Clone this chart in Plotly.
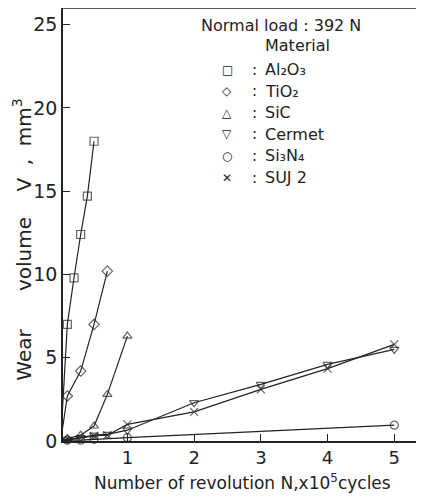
import plotly.graph_objects as go

# Data (N in 1e5 cycles, V in mm^3)
al2o3_n = [0, 0.1, 0.2, 0.3, 0.4, 0.5]
al2o3_v = [0, 7.0, 9.8, 12.4, 14.7, 18.0]
tio2_n = [0, 0.1, 0.3, 0.5, 0.7]
tio2_v = [0, 2.7, 4.2, 7.0, 10.2]
sic_n = [0, 0.1, 0.3, 0.5, 0.7, 1.0]
sic_v = [0, 0.15, 0.35, 0.9, 2.8, 6.3]
cermet_n = [0, 0.1, 0.3, 0.5, 0.7, 1.0, 2, 3, 4, 5]
cermet_v = [0, 0.1, 0.2, 0.35, 0.4, 0.65, 2.3, 3.4, 4.6, 5.5]
si3n4_n = [0, 0.1, 0.3, 0.5, 1.0, 5]
si3n4_v = [0, 0.05, 0.05, 0.1, 0.2, 0.95]
suj2_n = [0, 0.5, 0.7, 1.0, 2, 3, 4, 5]
suj2_v = [0, 0.3, 0.35, 1.0, 1.75, 3.1, 4.35, 5.8]

series = [
    ("Al2O3", al2o3_n, al2o3_v, "square-open"),
    ("TiO2", tio2_n, tio2_v, "diamond-open"),
    ("SiC", sic_n, sic_v, "triangle-up-open"),
    ("Cermet", cermet_n, cermet_v, "triangle-down-open"),
    ("Si3N4", si3n4_n, si3n4_v, "circle-open"),
    ("SUJ 2", suj2_n, suj2_v, "x-thin-open"),
]

legend_labels = ["Al\u2082O\u2083", "TiO\u2082", "SiC", "Cermet", "Si\u2083N\u2084", "SUJ 2"]
legend_glyphs = ["\u25a1", "\u25c7", "\u25b3", "\u25bd", "\u25cb", "\u2715"]

x_ticks = [0, 1, 2, 3, 4, 5]
y_ticks = [0, 5, 10, 15, 20, 25]

FONT = "DejaVu Sans"
INK = "#222"
# page body has an 8px default margin; figure is sized to fill the rest
OFF = 8
fig = go.Figure()
for name, n, v, sym in series:
    sizes = [0] + [8] * (len(n) - 1)
    fig.add_trace(go.Scatter(
        x=n, y=v, mode="lines+markers", name=name,
        line=dict(color=INK, width=1.2),
        marker=dict(symbol=sym, size=sizes, color=INK,
                    line=dict(color=INK, width=1.2)),
        showlegend=False, cliponaxis=False,
    ))

fig.update_xaxes(range=[0.035, 5.4], tickvals=x_ticks, ticks="inside", ticklen=7,
                 tickcolor=INK, showline=True, linecolor=INK, linewidth=1.5,
                 showgrid=False, zeroline=False, mirror=False, automargin=False,
                 tickfont=dict(size=18, color=INK, family=FONT))
fig.update_yaxes(range=[0, 26], tickvals=y_ticks, ticks="inside", ticklen=7,
                 tickcolor=INK, showline=True, linecolor=INK, linewidth=1.5,
                 showgrid=False, zeroline=False, automargin=False,
                 tickfont=dict(size=19, color=INK, family=FONT))

# top border line
fig.add_shape(type="line", xref="paper", yref="paper", x0=0, x1=1, y0=1, y1=1,
              line=dict(color=INK, width=1.5))

# axis titles
fig.add_annotation(xref="paper", yref="paper", x=0.5, y=0, yshift=-41,
                   yanchor="middle", xanchor="center",
                   text="Number of revolution N,x10<sup>5</sup>cycles", showarrow=False,
                   font=dict(size=17, color=INK, family=FONT))
fig.add_annotation(xref="paper", yref="paper", x=0, xshift=-41, y=0.465,
                   xanchor="center", yanchor="middle",
                   text="Wear&nbsp;&nbsp;&nbsp;&nbsp;&nbsp;&nbsp;volume&nbsp;&nbsp;&nbsp;&nbsp;V&nbsp;&nbsp;,&nbsp;&nbsp;mm<sup>3</sup>",
                   textangle=-90, showarrow=False,
                   font=dict(size=20, color=INK, family=FONT))

# legend block (positions in page pixels)
def py(pix):
    return (441.5 - pix) / 433.5

def px(pix):
    return (pix - 63) / 358.0

fig.add_annotation(xref="paper", yref="paper", x=px(281), y=py(26), xanchor="center",
                   yanchor="middle", text="Normal load : 392 N", showarrow=False,
                   font=dict(size=16, color=INK, family=FONT))
fig.add_annotation(xref="paper", yref="paper", x=px(297), y=py(46), xanchor="center",
                   yanchor="middle", text="Material", showarrow=False,
                   font=dict(size=16, color=INK, family=FONT))
row_y = [70, 91.5, 113, 134.5, 156, 178]
for g, lab, ry in zip(legend_glyphs, legend_labels, row_y):
    fig.add_annotation(xref="paper", yref="paper", x=px(227), y=py(ry), xanchor="center",
                       yanchor="middle", text=g, showarrow=False,
                       font=dict(size=12, color=INK, family=FONT))
    fig.add_annotation(xref="paper", yref="paper", x=px(254), y=py(ry), xanchor="center",
                       yanchor="middle", text=":", showarrow=False,
                       font=dict(size=15, color=INK, family=FONT))
    fig.add_annotation(xref="paper", yref="paper", x=px(263), y=py(ry), xanchor="left",
                       yanchor="middle", text=lab, showarrow=False,
                       font=dict(size=16, color=INK, family=FONT))

fig.update_layout(width=424 - OFF, height=497 - OFF,
                  margin=dict(l=63 - OFF, r=3, t=8 - OFF, b=55.5, pad=0),
                  plot_bgcolor="white", paper_bgcolor="white",
                  font=dict(family=FONT, color=INK))
fig.write_html("out.html")
